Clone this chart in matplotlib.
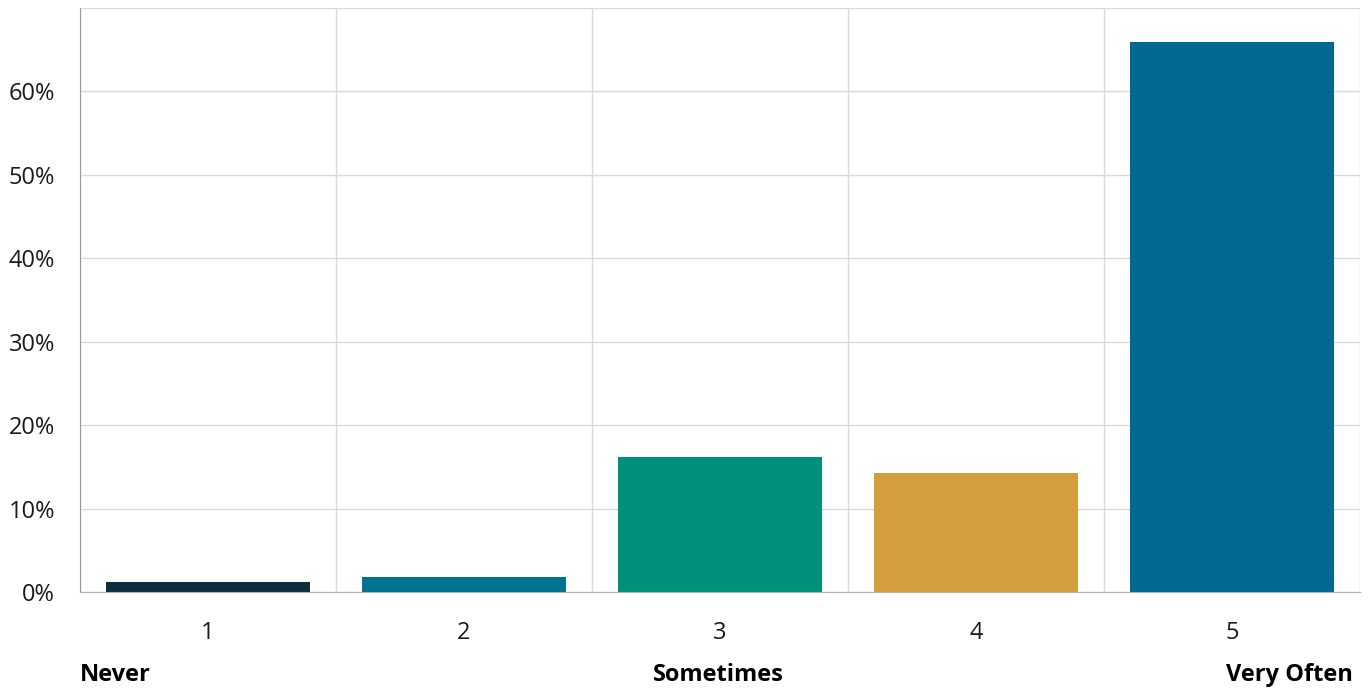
import matplotlib
matplotlib.use("Agg")
import matplotlib.pyplot as plt
from matplotlib.ticker import FuncFormatter, MultipleLocator

categories = ["1", "2", "3", "4", "5"]
values = [1.2, 1.8, 16.2, 14.3, 65.9]
colors = ["#0b2d3c", "#00728f", "#00917a", "#d49e3c", "#006891"]
scale_labels = ["Never", "Sometimes", "Very Often"]

plt.rcParams['font.family'] = ['Open Sans', 'DejaVu Sans']

fig = plt.figure(figsize=(13.7, 6.91), dpi=100)
ax = fig.add_axes([80/1370, 1-592/691, 1280/1370, 584/691])

x = list(range(1, len(categories)+1))
ax.bar(x, values, width=0.8, color=colors, zorder=3)

ax.set_xlim(0.5, 5.5)
ax.set_ylim(0, 70)
ax.yaxis.set_major_locator(MultipleLocator(10))
ax.yaxis.set_major_formatter(FuncFormatter(lambda v, p: "" if v >= 70 else f"{int(v)}%"))
ax.set_xticks(x)
ax.set_xticklabels(categories)
ax.set_xticks([i + 0.5 for i in range(0, 6)], minor=True)

ax.grid(axis='y', which='major', color='#d9d9d9', linewidth=1, zorder=0)
ax.grid(axis='x', which='minor', color='#d9d9d9', linewidth=1, zorder=0)
ax.tick_params(axis='both', which='both', length=0)
ax.tick_params(axis='y', labelsize=17, pad=18, colors='#1a1a1a')
ax.tick_params(axis='x', labelsize=17, pad=21, colors='#1a1a1a')

for s in ['top', 'right']:
    ax.spines[s].set_visible(False)
ax.spines['left'].set_color('#999999')
ax.spines['bottom'].set_color('#b0b0b0')
ax.spines['left'].set_zorder(4)
ax.spines['bottom'].set_zorder(4)

fig.text(80/1370, 1-675/691, scale_labels[0], ha='left', va='center', fontsize=17, fontweight='bold')
fig.text(718/1370, 1-675/691, scale_labels[1], ha='center', va='center', fontsize=17, fontweight='bold')
fig.text(1353/1370, 1-675/691, scale_labels[2], ha='right', va='center', fontsize=17, fontweight='bold')

fig.savefig("out.png", dpi=100, facecolor='white')
